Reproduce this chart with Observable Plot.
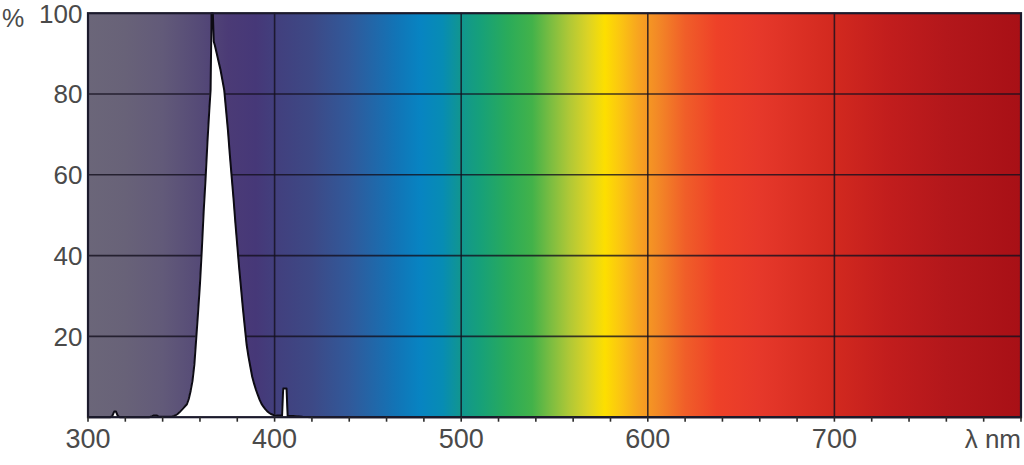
<!DOCTYPE html>
<html><head><meta charset="utf-8">
<script src="https://cdn.jsdelivr.net/npm/d3@7"></script>
<script src="https://cdn.jsdelivr.net/npm/@observablehq/plot@0.6"></script>
<style>
body{margin:0;background:#fff;}
#chart{width:1024px;height:465px;}
</style>
</head><body><div id="chart"></div>
<script>
// Spectral power distribution (relative %, by wavelength in nm)
const wavelengths = [300,312,313,314,315,316,317,333,335,337,338,342,345,346,347,348,349,350,351,352,353,354,355,356,357,358,359,360,361,362,363,364,365,365.7,366.2,366.9,367.4,368,369,370,371,372,373,374,375,376,377,378,379,380,381,382,383,384,385,386,387,388,389,390,391,392,393,394,395,396,397,398,399,400,402,404,404.6,406.4,407,410,415,420,800];
const intensity   = [0,0,0.3,1.4,1.4,0.3,0,0,0.4,0.4,0.1,0.1,0.2,0.3,0.5,0.8,1.2,1.7,2.2,2.7,3.2,4.5,6.5,9,13,19.5,26,33,41.5,51,59,68,76,81,100,100,93,92,90,88,86,83.5,81,76,71,65,59.5,54,48,42.5,37,32,27,22.5,18,15,12.5,10,8.3,6.8,5.5,4.3,3.3,2.6,2,1.5,1.1,0.8,0.6,0.5,0.4,0.4,7.1,7.1,0.3,0.3,0.1,0,0];

// Background spectrum colour stops
const gradientNm     = [300,320,340,360,375,390,400,420,440,455,465,478,490,500,510,525,538,548,558,568,577,585,595,605,620,637,660,700,730,760,800];
const gradientColors = ["#6b6679","#686278","#625a79","#554a77","#4b3b76","#463878","#423f7d","#3d4986","#31599a","#1f69ab","#1274b6","#0784c2","#078cb4","#11968f","#16a07a","#2aab5a","#42b24a","#7bbd41","#b0c836","#dcd325","#fddf00","#fbc611","#f7a420","#f38a26","#f05e29","#ee4128","#e6382a","#d2291f","#c11d1d","#b3171b","#a81016"];

const xDomain = [300, 800];
const yDomain = [0, 100];
const xGrid = [400, 500, 600, 700];
const yGrid = [20, 40, 60, 80];
const xLabelTicks = [300, 400, 500, 600, 700];
const xMinorTicks = [300,320,340,360,380,400,420,440,460,480,500,520,540,560,580,600,620,640,660,680,700,720,740,760,780,800];
const yLabelTicks = [20, 40, 60, 80, 100];
const unitX = "λ nm";
const unitY = "%";

const data = wavelengths.map((nm, i) => ({nm, v: intensity[i]}));

const font = "Liberation Sans, Arial, sans-serif";
const textColor = "#4a4a4a";
const gridColor = "#14101e";

const plot = Plot.plot({
  width: 1024,
  height: 465,
  marginLeft: 87.5,
  marginRight: 3.5,
  marginTop: 12.7,
  marginBottom: 48.3,
  style: {fontFamily: font, background: "#fff", overflow: "visible"},
  x: {domain: xDomain, axis: null, label: null},
  y: {domain: yDomain, axis: null, label: null},
  marks: [
    Plot.frame({fill: "url(#spectrum)", stroke: null}),
    Plot.ruleX(xGrid, {stroke: gridColor, strokeOpacity: 0.8, strokeWidth: 1.6}),
    Plot.ruleY(yGrid, {stroke: gridColor, strokeOpacity: 0.8, strokeWidth: 1.6}),
    Plot.areaY(data, {x: "nm", y: "v", fill: "#ffffff"}),
    Plot.lineY(data, {x: "nm", y: "v", stroke: "#0d0b14", strokeWidth: 2}),
    Plot.frame({stroke: "#1b1a2c", strokeWidth: 2.2}),
    Plot.axisX(xMinorTicks, {tickSize: 5, text: null, label: null, stroke: "#2a2a2a", strokeWidth: 1.6}),
    Plot.axisX(xLabelTicks, {tickSize: 0, tickPadding: 12, fontSize: 27, fill: textColor, label: null, tickFormat: d => String(d)}),
    Plot.axisY(yLabelTicks, {tickSize: 0, tickPadding: 5.5, fontSize: 26, fill: textColor, label: null, dy: 1, tickFormat: d => String(d)}),
    Plot.text([unitX], {x: xDomain[1], y: yDomain[0], text: d => d, textAnchor: "end", lineAnchor: "top", dy: 12, fontSize: 26, fill: textColor}),
    Plot.text([unitY], {x: xDomain[0], y: yDomain[1], text: d => d, textAnchor: "start", lineAnchor: "middle", dx: -86, dy: 6, fontSize: 25, fill: textColor})
  ]
});

// gradient definition driven by the x scale
const sx = plot.scale("x");
const x0 = sx.apply(xDomain[0]), x1 = sx.apply(xDomain[1]);
const defs = d3.create("svg:defs");
const lg = defs.append("linearGradient")
  .attr("id", "spectrum")
  .attr("gradientUnits", "userSpaceOnUse")
  .attr("x1", x0).attr("x2", x1).attr("y1", 0).attr("y2", 0);
gradientNm.forEach((nm, i) => {
  lg.append("stop")
    .attr("offset", (sx.apply(nm) - x0) / (x1 - x0))
    .attr("stop-color", gradientColors[i]);
});
plot.insertBefore(defs.node(), plot.firstChild);

document.getElementById("chart").appendChild(plot);
</script>
</body></html>
